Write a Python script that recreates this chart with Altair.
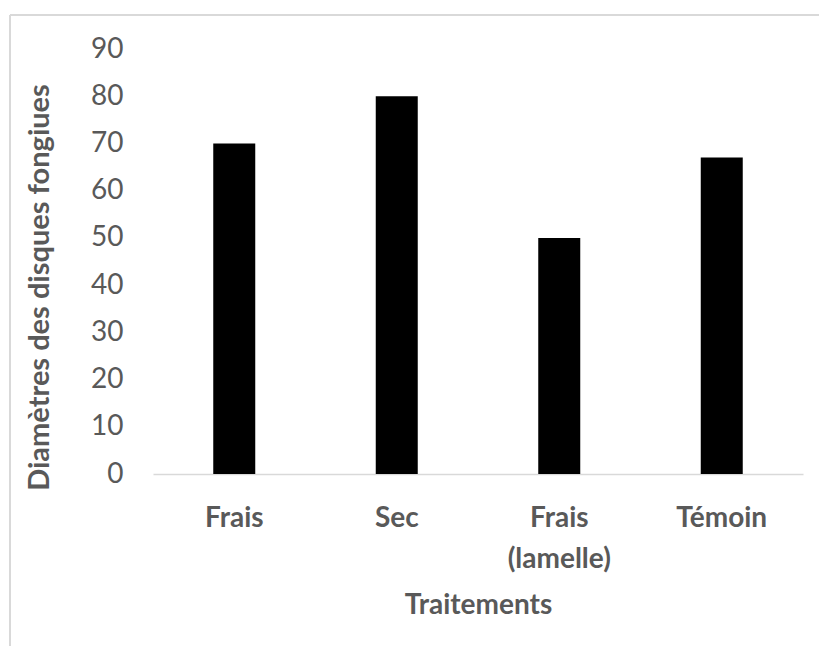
import altair as alt
import pandas as pd

categories = ["Frais", "Sec", "Frais (lamelle)", "Témoin"]
values = [70, 80, 50, 67]

df = pd.DataFrame({"Traitement": categories, "Diametre": values})

FONT = "Lato"
GREY = "#595959"

bars = alt.Chart(df).mark_bar(color="black", size=42).encode(
    x=alt.X(
        "Traitement:N",
        sort=categories,
        title="Traitements",
        scale=alt.Scale(paddingInner=0.74, paddingOuter=0.37),
        axis=alt.Axis(
            labelAngle=0,
            labelFont=FONT,
            labelFontSize=28,
            labelFontWeight="bold",
            labelColor=GREY,
            labelPadding=30,
            labelLineHeight=41,
            labelExpr="datum.label == 'Frais (lamelle)' ? ['Frais', '(lamelle)'] : datum.label",
            ticks=False,
            domainColor="#d9d9d9",
            domainWidth=1.5,
            titleFont=FONT,
            titleFontSize=28,
            titleFontWeight="bold",
            titleColor=GREY,
            titlePadding=18,
        ),
    ),
    y=alt.Y(
        "Diametre:Q",
        title="Diamètres des disques fongiues",
        scale=alt.Scale(domain=[0, 90], nice=False),
        axis=alt.Axis(
            values=list(range(0, 91, 10)),
            grid=False,
            domain=False,
            ticks=False,
            labelFont=FONT,
            labelFontSize=28,
            labelColor=GREY,
            labelPadding=30,
            titleFont=FONT,
            titleFontSize=29,
            titleFontWeight="bold",
            titleColor=GREY,
            titlePadding=36,
            titleY=238,
        ),
    ),
)

border = alt.Chart(pd.DataFrame({"a": [0]})).mark_rule(color="#d9d9d9", strokeWidth=2, clip=False).encode(
    x=alt.value(-143), x2=alt.value(700), y=alt.value(-34)
)
border_left = alt.Chart(pd.DataFrame({"a": [0]})).mark_rule(color="#d9d9d9", strokeWidth=2, clip=False).encode(
    x=alt.value(-143), y=alt.value(-34), y2=alt.value(640)
)

chart = alt.layer(border, border_left, bars).properties(
    width=650,
    height=425,
    autosize=alt.AutoSizeParams(type="none"),
    padding={"left": 153, "top": 49, "right": 16, "bottom": 172},
    background="white",
).configure_view(stroke=None)

chart.save("out.html", embed_options={"renderer": "svg", "actions": False})
